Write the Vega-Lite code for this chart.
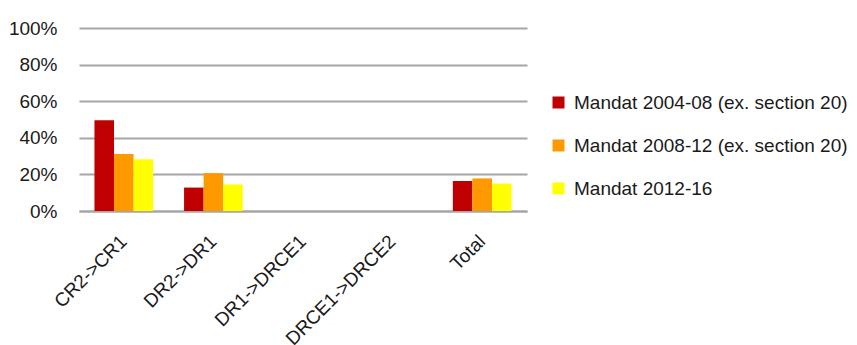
{
  "$schema": "https://vega.github.io/schema/vega-lite/v6.json",
  "autosize": "none",
  "width": 448,
  "height": 183,
  "padding": {"left": 79, "top": 28, "right": 330, "bottom": 134},
  "background": "white",
  "config": {
    "view": {"stroke": null},
    "font": "Liberation Sans, Arial, sans-serif"
  },
  "data": {
    "values": [
      {"cat": "CR2->CR1", "series": "Mandat 2004-08 (ex. section 20)", "value": 0.496},
      {"cat": "CR2->CR1", "series": "Mandat 2008-12 (ex. section 20)", "value": 0.312},
      {"cat": "CR2->CR1", "series": "Mandat 2012-16", "value": 0.283},
      {"cat": "DR2->DR1", "series": "Mandat 2004-08 (ex. section 20)", "value": 0.128},
      {"cat": "DR2->DR1", "series": "Mandat 2008-12 (ex. section 20)", "value": 0.207},
      {"cat": "DR2->DR1", "series": "Mandat 2012-16", "value": 0.145},
      {"cat": "DR1->DRCE1", "series": "Mandat 2004-08 (ex. section 20)", "value": null},
      {"cat": "DR1->DRCE1", "series": "Mandat 2008-12 (ex. section 20)", "value": null},
      {"cat": "DR1->DRCE1", "series": "Mandat 2012-16", "value": null},
      {"cat": "DRCE1->DRCE2", "series": "Mandat 2004-08 (ex. section 20)", "value": null},
      {"cat": "DRCE1->DRCE2", "series": "Mandat 2008-12 (ex. section 20)", "value": null},
      {"cat": "DRCE1->DRCE2", "series": "Mandat 2012-16", "value": null},
      {"cat": "Total", "series": "Mandat 2004-08 (ex. section 20)", "value": 0.164},
      {"cat": "Total", "series": "Mandat 2008-12 (ex. section 20)", "value": 0.178},
      {"cat": "Total", "series": "Mandat 2012-16", "value": 0.150}
    ]
  },
  "mark": {"type": "bar"},
  "encoding": {
    "x": {
      "field": "cat",
      "type": "nominal",
      "sort": null,
      "title": null,
      "scale": {
        "domain": ["CR2->CR1", "DR2->DR1", "DR1->DRCE1", "DRCE1->DRCE2", "Total"],
        "paddingInner": 0.345,
        "paddingOuter": 0.1725
      },
      "axis": {
        "labelAngle": -45,
        "labelAlign": "right",
        "labelBaseline": "middle",
        "labelFontSize": 19,
        "labelColor": "#1a1a1a",
        "labelPadding": 27,
        "ticks": false,
        "domainColor": "#a6a6a6",
        "domainWidth": 2,
        "grid": false
      }
    },
    "xOffset": {
      "field": "series",
      "type": "nominal",
      "sort": null,
      "scale": {"paddingInner": 0, "paddingOuter": 0}
    },
    "y": {
      "field": "value",
      "type": "quantitative",
      "title": null,
      "scale": {"domain": [0, 1], "nice": false},
      "axis": {
        "values": [0, 0.2, 0.4, 0.6, 0.8, 1],
        "format": ".0%",
        "domain": false,
        "ticks": false,
        "labelFontSize": 19,
        "labelColor": "#1a1a1a",
        "labelPadding": 22,
        "gridColor": "#a6a6a6",
        "gridWidth": 2
      }
    },
    "color": {
      "field": "series",
      "type": "nominal",
      "sort": null,
      "title": null,
      "scale": {
        "domain": ["Mandat 2004-08 (ex. section 20)", "Mandat 2008-12 (ex. section 20)", "Mandat 2012-16"],
        "range": ["#c00000", "#ff9900", "#ffff00"]
      },
      "legend": {
        "orient": "none",
        "legendX": 470,
        "legendY": 65,
        "padding": 0,
        "symbolType": "square",
        "symbolSize": 144,
        "symbolStrokeWidth": 0,
        "labelFontSize": 19,
        "labelColor": "#1a1a1a",
        "labelOffset": 6,
        "labelLimit": 400,
        "rowPadding": 23
      }
    }
  }
}
